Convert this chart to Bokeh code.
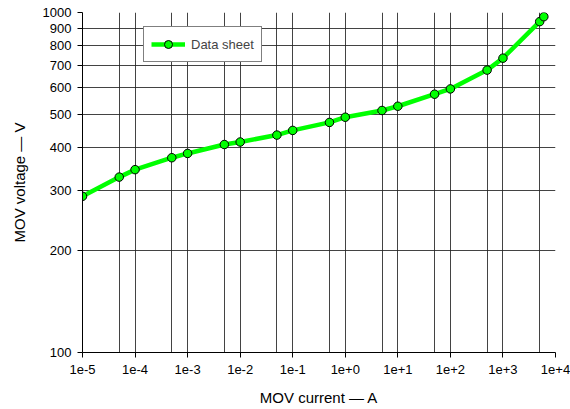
from bokeh.plotting import figure
from bokeh.models import FixedTicker, CustomJSTickFormatter, Legend, LegendItem
from bokeh.embed import file_html
from bokeh.resources import INLINE

# MOV V-I characteristic (data sheet points)
current_a = [1e-5, 5e-5, 1e-4, 5e-4, 1e-3, 5e-3, 1e-2, 5e-2, 1e-1, 5e-1,
             1, 5, 10, 50, 100, 500, 1000, 5000, 6000]
voltage_v = [288, 328, 345, 374, 385, 409, 416, 436, 450, 475,
             492, 515, 530, 575, 596, 677, 734, 940, 972]

x_ticks = [1e-5, 1e-4, 1e-3, 1e-2, 1e-1, 1e0, 1e1, 1e2, 1e3, 1e4]
x_tick_labels = ["1e-5", "1e-4", "1e-3", "1e-2", "1e-1",
                 "1e+0", "1e+1", "1e+2", "1e+3", "1e+4"]
x_half_decades = [5e-5, 5e-4, 5e-3, 5e-2, 5e-1, 5, 50, 500, 5000]
y_ticks = [100, 200, 300, 400, 500, 600, 700, 800, 900, 1000]
y_tick_labels = ["100", "200", "300", "400", "500",
                 "600", "700", "800", "900", "1000"]

FONT = "Liberation Sans"

p = figure(width=570, height=409, x_axis_type="log", y_axis_type="log",
           x_range=(1e-5, 1e4), y_range=(100, 1000),
           output_backend="svg", toolbar_location=None,
           min_border_left=82, min_border_right=15,
           min_border_top=12, min_border_bottom=57)
p.outline_line_color = None
p.background_fill_color = "white"
p.border_fill_color = "white"

# grid: decades plus the 5x lines on x, every hundred volts on y
p.xgrid.ticker = FixedTicker(ticks=sorted(x_ticks + x_half_decades))
p.ygrid.ticker = FixedTicker(ticks=y_ticks)
for g in (p.xgrid, p.ygrid):
    g.grid_line_color = "#222222"
    g.grid_line_width = 1
    g.grid_line_alpha = 0.85

label_js = """
let best = 0, bd = Infinity;
for (let i = 0; i < vals.length; i++) {
  const d = Math.abs(Math.log10(vals[i]) - Math.log10(tick));
  if (d < bd) { bd = d; best = i; }
}
return labels[best];
"""
p.xaxis.ticker = FixedTicker(ticks=x_ticks)
p.xaxis.formatter = CustomJSTickFormatter(args=dict(vals=x_ticks, labels=x_tick_labels), code=label_js)
p.yaxis.ticker = FixedTicker(ticks=y_ticks)
p.yaxis.formatter = CustomJSTickFormatter(args=dict(vals=y_ticks, labels=y_tick_labels), code=label_js)

p.xaxis.axis_label = "MOV current — A"
p.yaxis.axis_label = "MOV voltage — V"
for ax in (p.xaxis, p.yaxis):
    ax.axis_line_color = "black"
    ax.major_tick_line_color = "black"
    ax.major_tick_in = 0
    ax.major_tick_out = 5
    ax.minor_tick_line_color = None
    ax.major_label_text_font = FONT
    ax.major_label_text_font_size = "13px"
    ax.major_label_text_color = "black"
    ax.axis_label_text_font = FONT
    ax.axis_label_text_font_size = "15px"
    ax.axis_label_text_font_style = "normal"
    ax.axis_label_text_color = "black"
p.xaxis.major_label_standoff = 7
p.yaxis.major_label_standoff = 6
p.xaxis.axis_label_standoff = 12
p.yaxis.axis_label_standoff = 12

line = p.line(current_a, voltage_v, line_color="#00ff00", line_width=4.5)
pts = p.scatter(current_a, voltage_v, marker="circle", size=8.5,
                fill_color="#00ff00", line_color="black", line_width=1)

legend = Legend(items=[LegendItem(label="Data sheet", renderers=[line, pts])],
                location=(61, 290), orientation="vertical",
                border_line_color="black", border_line_width=1,
                background_fill_color="white", background_fill_alpha=1,
                label_text_font=FONT, label_text_font_size="13px",
                glyph_width=34, glyph_height=20, label_height=20,
                label_standoff=6, padding=7, margin=0, spacing=0)
p.add_layout(legend, "center")

open("out.html", "w").write(file_html(p, INLINE))
